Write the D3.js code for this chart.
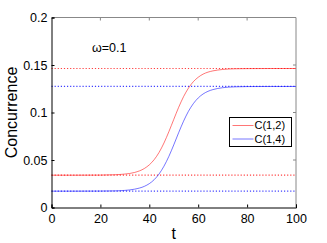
<!DOCTYPE html>
<html>
<head>
<meta charset="utf-8" />
<script src="https://d3js.org/d3.v7.min.js"></script>
<style>
  body { margin: 0; background: #fff; }
  text { font-family: "Liberation Sans", Arial, sans-serif; fill: #000; }
</style>
</head>
<body>
<div id="chart"></div>
<script>
const tValues = [0, 10, 20, 26, 30, 34, 38, 40, 42, 44, 46, 48, 50, 52, 54, 56, 58, 60, 62, 64, 66, 70, 75, 80, 90, 100];
const c12 = [0.0340, 0.0340, 0.0341, 0.0345, 0.0352, 0.0369, 0.0411, 0.0449, 0.0504, 0.0580, 0.0679, 0.0798, 0.0927,
             0.1054, 0.1166, 0.1256, 0.1324, 0.1371, 0.1404, 0.1425, 0.1438, 0.1453, 0.1460, 0.1462, 0.1463, 0.1463];
const c14 = [0.0172, 0.0172, 0.0173, 0.0175, 0.0180, 0.0193, 0.0223, 0.0251, 0.0293, 0.0353, 0.0435, 0.0538, 0.0659,
             0.0787, 0.0908, 0.1012, 0.1093, 0.1153, 0.1195, 0.1223, 0.1241, 0.1261, 0.1270, 0.1273, 0.1274, 0.1274];
// dotted reference levels
const levels12 = [0.034, 0.1463];
const levels14 = [0.0172, 0.1274];
const xTicks = [0, 20, 40, 60, 80, 100];
const yTicks = [0, 0.05, 0.1, 0.15, 0.2];
const seriesNames = ["C(1,2)", "C(1,4)"];
const colors = ["#ff0000", "#0000ff"];

const width = 327, height = 243;
const margin = { left: 51.5, right: 31, top: 17.5, bottom: 35.5 };

const svg = d3.select("#chart").append("svg")
    .attr("width", width)
    .attr("height", height);

const x = d3.scaleLinear().domain([0, 100]).range([margin.left, width - margin.right]);
const y = d3.scaleLinear().domain([0, 0.2]).range([height - margin.bottom, margin.top]);

// box (top/right grey like matlab)
svg.append("line").attr("x1", x(0)).attr("x2", x(100)).attr("y1", y(0.2)).attr("y2", y(0.2))
    .attr("stroke", "#888").attr("stroke-width", 1);
svg.append("line").attr("x1", x(100)).attr("x2", x(100)).attr("y1", y(0)).attr("y2", y(0.2))
    .attr("stroke", "#888").attr("stroke-width", 1);

// dotted levels
const dotted = [levels12.map(v => ({ v, c: colors[0] })), levels14.map(v => ({ v, c: colors[1] }))].flat();
svg.append("g").selectAll("line")
    .data(dotted)
    .enter().append("line")
    .attr("x1", x(0)).attr("x2", x(100))
    .attr("y1", d => y(d.v)).attr("y2", d => y(d.v))
    .attr("stroke", d => d.c)
    .attr("stroke-opacity", 0.75)
    .attr("stroke-width", 1.2)
    .attr("stroke-dasharray", "1.2,1.9");

// curves
const line = d3.line()
    .x(d => x(d[0]))
    .y(d => y(d[1]))
    .curve(d3.curveMonotoneX);

[c12, c14].forEach((vals, i) => {
    svg.append("path")
        .datum(tValues.map((t, j) => [t, vals[j]]))
        .attr("fill", "none")
        .attr("stroke", colors[i])
        .attr("stroke-opacity", 0.6)
        .attr("stroke-width", 0.9)
        .attr("d", line);
});

// axes
const xAxis = svg.append("g")
    .attr("transform", `translate(0,${y(0)})`)
    .call(d3.axisBottom(x).tickValues(xTicks).tickSize(-3).tickPadding(7).tickFormat(d3.format("d")));
const yAxis = svg.append("g")
    .attr("transform", `translate(${x(0)},0)`)
    .call(d3.axisLeft(y).tickValues(yTicks).tickSize(-3).tickPadding(4).tickFormat(d => d === 0 ? "0" : String(d)));
[xAxis, yAxis].forEach(g => {
    g.select(".domain").attr("stroke", "#000");
    g.selectAll("text").style("font-size", "12.5px").style("font-family", "Liberation Sans, Arial, sans-serif");
});
yAxis.selectAll("text").attr("dy", "0.35em");

// ticks on the top and right edges
svg.append("g").selectAll("line").data(xTicks.slice(1, -1)).enter().append("line")
    .attr("x1", d => x(d)).attr("x2", d => x(d))
    .attr("y1", y(0.2)).attr("y2", y(0.2) + 3)
    .attr("stroke", "#888");
svg.append("g").selectAll("line").data(yTicks.slice(1, -1)).enter().append("line")
    .attr("x1", x(100)).attr("x2", x(100) - 3)
    .attr("y1", d => y(d)).attr("y2", d => y(d))
    .attr("stroke", "#888");

// labels
svg.append("text")
    .attr("x", x(50))
    .attr("y", 239)
    .attr("text-anchor", "middle")
    .style("font-size", "16px")
    .text("t");
svg.append("text")
    .attr("transform", `translate(17,${y(0.1)}) rotate(-90)`)
    .attr("text-anchor", "middle")
    .style("font-size", "16px")
    .text("Concurrence");
svg.append("text")
    .attr("x", 92)
    .attr("y", 52)
    .style("font-size", "12.5px")
    .text("ω=0.1");

// legend
const legend = svg.append("g").attr("transform", "translate(229.5,117.5)");
legend.append("rect")
    .attr("width", 62).attr("height", 29)
    .attr("fill", "#fff").attr("stroke", "#000").attr("stroke-width", 1);
seriesNames.forEach((name, i) => {
    legend.append("line")
        .attr("x1", 3).attr("x2", 24)
        .attr("y1", 8 + i * 13.5).attr("y2", 8 + i * 13.5)
        .attr("stroke", colors[i]).attr("stroke-opacity", 0.6).attr("stroke-width", 0.9);
    legend.append("text")
        .attr("x", 25).attr("y", 8 + i * 13.5)
        .attr("dy", "0.35em")
        .style("font-size", "11px")
        .text(name);
});
</script>
</body>
</html>
